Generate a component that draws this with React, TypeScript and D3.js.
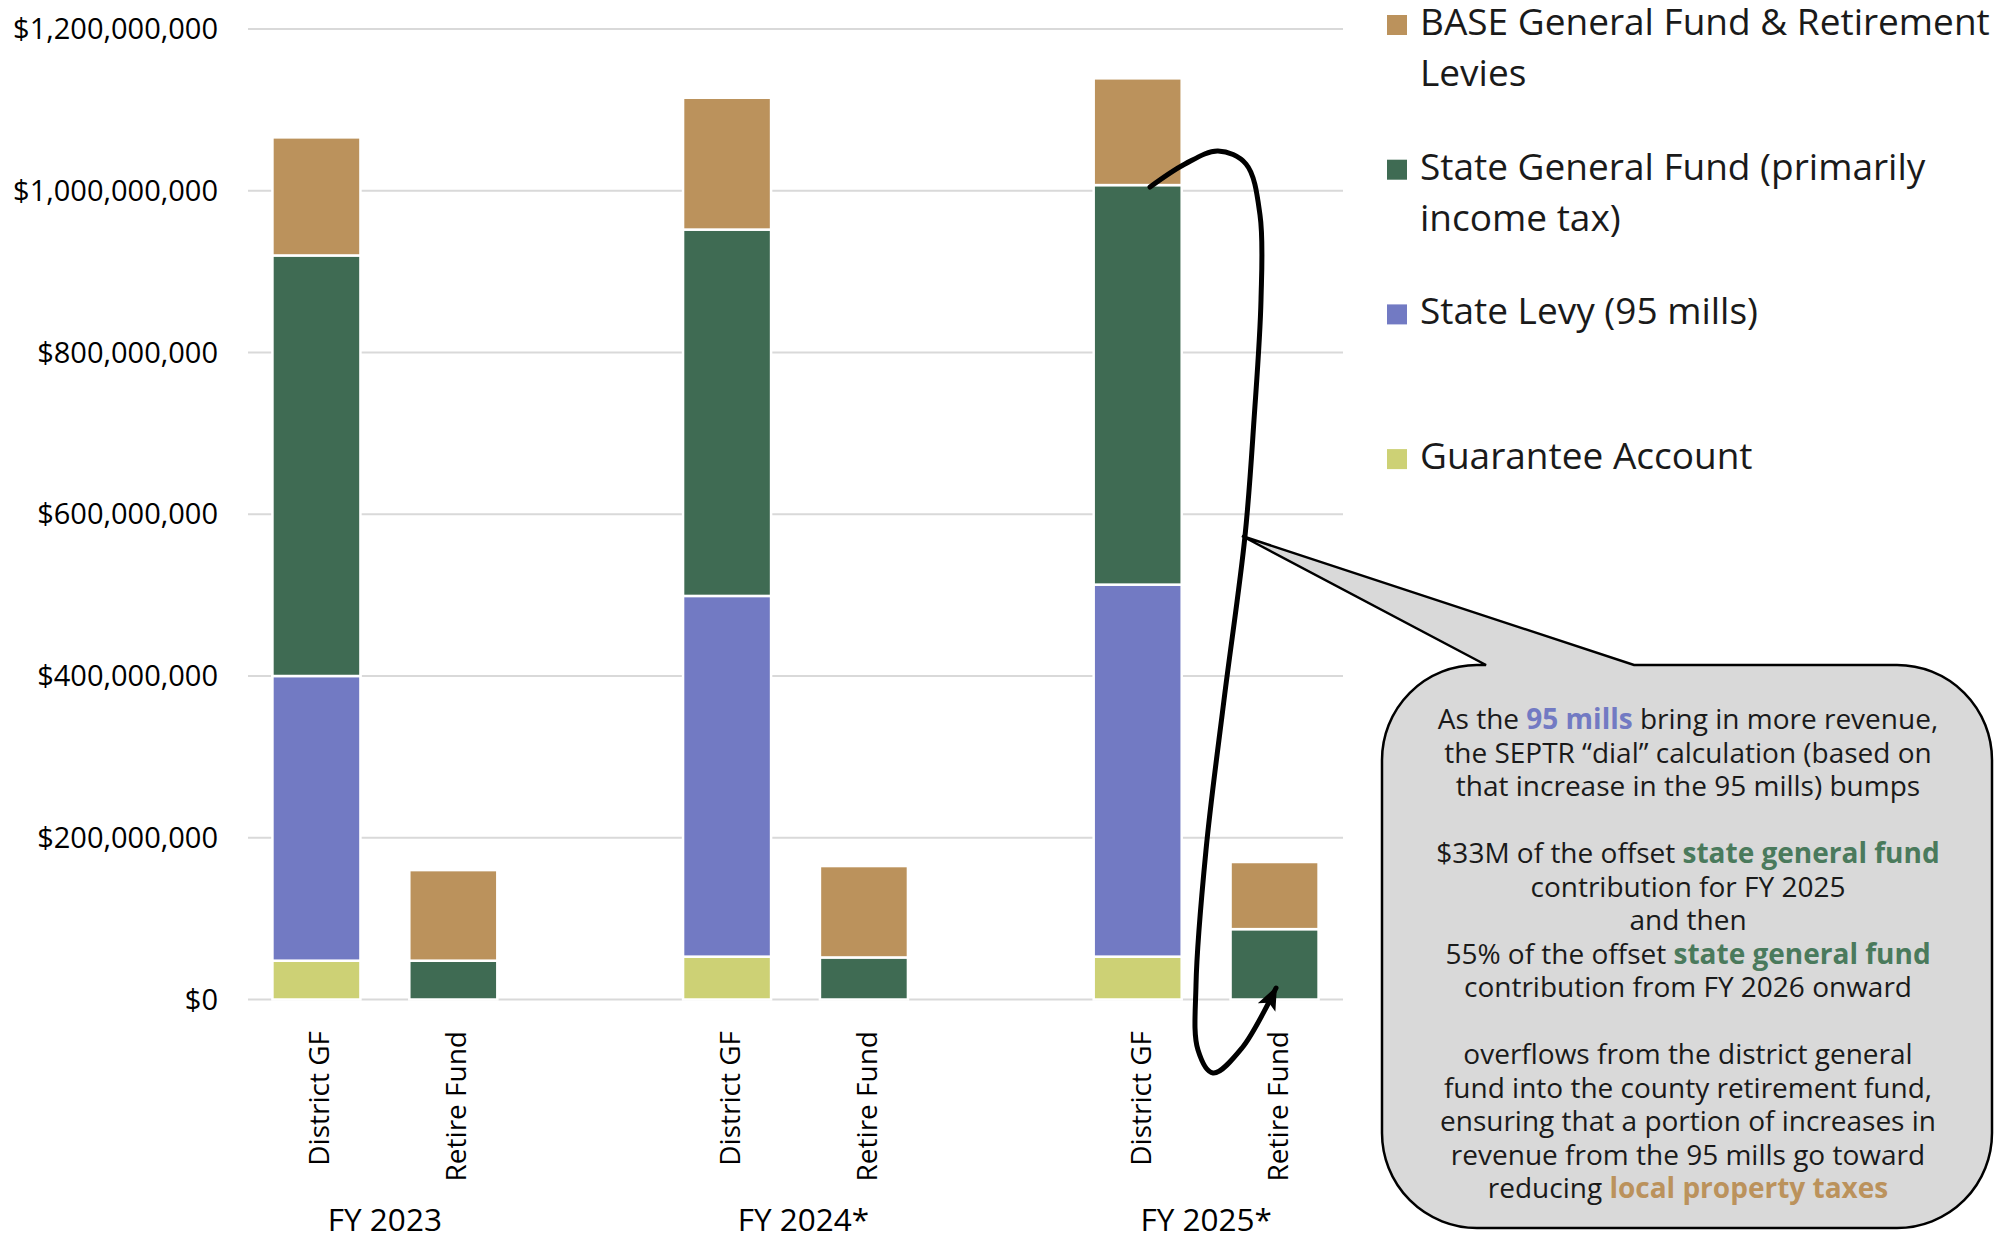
import React from 'react';
import * as d3 from 'd3';

// bars, left to right, within each fiscal year
const years = ['FY 2023', 'FY 2024*', 'FY 2025*'];
const funds = ['District GF', 'Retire Fund'];

// values in $ millions, one per bar (23 DGF, 23 RF, 24 DGF, 24 RF, 25 DGF, 25 RF)
const guarantee = [48, 0, 53, 0, 53, 0];
const stateLevy = [352, 0, 446, 0, 460, 0];
const stateGF = [520, 48, 453, 52, 494, 87];
const baseLevies = [146, 112, 163, 113, 132, 83];

const seriesKeys = ['guarantee', 'levy', 'sgf', 'base'];
const colors = ['#CDD175', '#727AC3', '#3F6B53', '#BB925C'];
const legendLines = [
  ['BASE General Fund & Retirement', 'Levies'],
  ['State General Fund (primarily', 'income tax)'],
  ['State Levy (95 mills)'],
  ['Guarantee Account'],
];
const yTicks = [0, 200e6, 400e6, 600e6, 800e6, 1000e6, 1200e6];

const W = 1997, H = 1236;
const font = '"Open Sans", "Noto Sans", sans-serif';

const App = () => {
  // slot keys, with an empty slot between the fiscal years
  const slots: string[] = [];
  years.forEach((yr, i) => {
    funds.forEach(f => slots.push(`${yr}|${f}`));
    if (i < years.length - 1) slots.push(`gap${i}`);
  });

  const rows = years.flatMap((yr, i) => funds.map((f, j) => {
    const k = i * funds.length + j;
    return {
      key: `${yr}|${f}`, fund: f,
      guarantee: guarantee[k] * 1e6, levy: stateLevy[k] * 1e6,
      sgf: stateGF[k] * 1e6, base: baseLevies[k] * 1e6,
    };
  }));

  const x = d3.scaleBand<string>().domain(slots).range([248, 1343])
    .paddingInner(0.357).paddingOuter(0.1785);
  const y = d3.scaleLinear().domain([0, 1.2e9]).range([999.5, 29]);
  const stack = d3.stack<any>().keys(seriesKeys)(rows);
  const fmt = (v: number) => '$' + d3.format(',')(v);

  // callout bubble with its tail
  const bx0 = 1382, bx1 = 1992, by0 = 665, by1 = 1228, r = 95;
  const bubble = `M${bx0 + r},${by0} L1486,${by0} L1242,536 L1634,${by0} L${bx1 - r},${by0}
    A${r},${r} 0 0 1 ${bx1},${by0 + r} L${bx1},${by1 - r} A${r},${r} 0 0 1 ${bx1 - r},${by1}
    L${bx0 + r},${by1} A${r},${r} 0 0 1 ${bx0},${by1 - r} L${bx0},${by0 + r} A${r},${r} 0 0 1 ${bx0 + r},${by0} Z`;

  const arrowPts: [number, number][] = [
    [1150, 187], [1185, 164], [1218, 151], [1246, 164], [1260, 215], [1261, 300],
    [1254, 420], [1245, 536], [1224, 700], [1206, 850], [1196, 985], [1198, 1050],
    [1213, 1073], [1242, 1048], [1276, 988],
  ];
  const arrowPath = d3.line().curve(d3.curveCatmullRom.alpha(0.5))(arrowPts) || '';

  const blue = '#727AC3', green = '#4A7A5C', tan = '#BB925C';
  const note: [string, string?][][] = [
    [['As the '], ['95 mills', blue], [' bring in more revenue,']],
    [['the SEPTR “dial” calculation (based on']],
    [['that increase in the 95 mills) bumps']],
    [],
    [['$33M of the offset '], ['state general fund', green]],
    [['contribution for FY 2025']],
    [['and then']],
    [['55% of the offset '], ['state general fund', green]],
    [['contribution from FY 2026 onward']],
    [],
    [['overflows from the district general']],
    [['fund into the county retirement fund,']],
    [['ensuring that a portion of increases in']],
    [['revenue from the 95 mills go toward']],
    [['reducing '], ['local property taxes', tan]],
  ];

  return (
    <svg width={W} height={H} style={{ position: 'absolute', left: 0, top: 0, background: '#fff' }}
      fontFamily={font}>
      <defs>
        <marker id="ah" markerUnits="userSpaceOnUse" markerWidth="26" markerHeight="22"
          refX="20" refY="9" orient="auto" viewBox="0 0 24 18">
          <path d="M0,0 L22,9 L0,18 L5,9 Z" fill="#000" />
        </marker>
      </defs>

      {yTicks.map(t => (
        <g key={t}>
          <line x1={248} x2={1343} y1={y(t)} y2={y(t)} stroke="#d9d9d9" strokeWidth={2} />
          <text x={218} y={y(t) + 10} textAnchor="end" fontSize={29} fill="#000">{fmt(t)}</text>
        </g>
      ))}

      {stack.map((s, si) => (
        <g key={s.key} fill={colors[si]}>
          {s.map(d => d[1] > d[0] && (
            <rect key={d.data.key} x={x(d.data.key)} width={x.bandwidth()}
              y={y(d[1])} height={y(d[0]) - y(d[1])} stroke="#fff" strokeWidth={2.5} />
          ))}
        </g>
      ))}

      {rows.map(d => {
        const cx = (x(d.key) || 0) + x.bandwidth() / 2 + 13;
        return (
          <text key={d.key} transform={`translate(${cx},1031) rotate(-90)`} textAnchor="end"
            fontSize={28} fill="#000">{d.fund}</text>
        );
      })}

      {years.map((yr, i) => {
        const a = x(`${yr}|${funds[0]}`) || 0;
        const b = (x(`${yr}|${funds[1]}`) || 0) + x.bandwidth();
        return <text key={yr} x={(a + b) / 2 + (i === 1 ? 8 : 0)} y={1231} textAnchor="middle"
          fontSize={31.5} fill="#000">{yr}</text>;
      })}

      {legendLines.map((lines, i) => {
        const by = 35 + i * 144.7;
        return (
          <g key={i}>
            <rect x={1387} y={by - 20} width={20} height={20} fill={colors[3 - i]} />
            {lines.map((ln, j) => (
              <text key={j} x={1420} y={by + j * 51} fontSize={37} fill="#1a1a1a">{ln}</text>
            ))}
          </g>
        );
      })}

      <path d={bubble} fill="#d9d9d9" stroke="#000" strokeWidth={2.5} />
      <path d={arrowPath} fill="none" stroke="#000" strokeWidth={5} strokeLinecap="round"
        markerEnd="url(#ah)" />

      <text fontSize={28} textAnchor="middle" fill="#1a1a1a">
        {note.map((ln, i) => (
          <tspan key={i} x={1688} y={729 + i * 33.5}>
            {ln.map(([t, c], j) => (
              <tspan key={j} fill={c || '#1a1a1a'} fontWeight={c ? 700 : 400}>{t}</tspan>
            ))}
          </tspan>
        ))}
      </text>
    </svg>
  );
};

export default App;
